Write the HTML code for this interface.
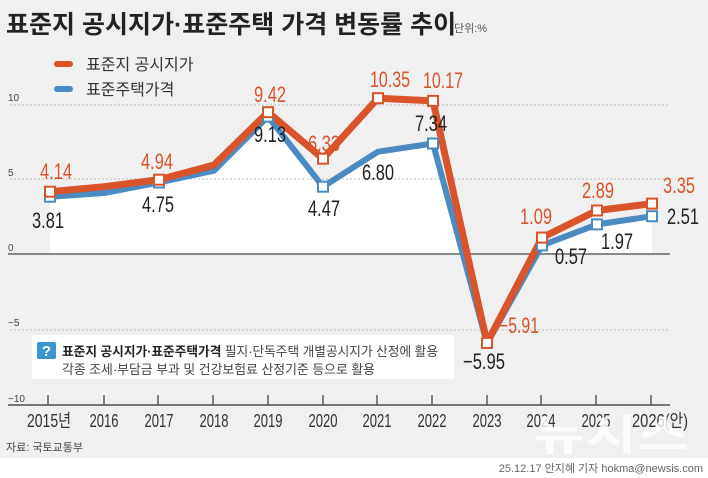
<!DOCTYPE html>
<html><head><meta charset="utf-8"><style>
body{margin:0;padding:0;}
svg{display:block;font-family:"Liberation Sans","Noto Sans CJK KR",sans-serif;}
.n{font-size:22px;text-anchor:middle;}
.o{fill:#d9532b;}.k{fill:#222;}
.yl{font-size:10px;fill:#444;}
.xl{font-size:18px;fill:#333;text-anchor:middle;}
</style></head><body>
<svg width="708" height="478" viewBox="0 0 708 478">
<defs><clipPath id="c"><rect x="0" y="0" width="708" height="254"/></clipPath></defs>
<rect width="708" height="478" fill="#fff"/>
<rect width="708" height="458" fill="#f0f0f0"/>
<polygon clip-path="url(#c)" fill="#fff" points="50,254 50,196.7 104,193 159,182.5 214,170.7 268,116.6 323,186.7 378,151.7 433,143.5 487,343.5 542,245.4 597,224.4 652,216.2 652,254"/>
<g stroke="#bbb" stroke-width="1" stroke-dasharray="2,2">
<line x1="10" y1="105" x2="670" y2="105"/><line x1="10" y1="179" x2="670" y2="179"/><line x1="10" y1="330" x2="670" y2="330"/>
</g>
<line x1="8" y1="254" x2="670" y2="254" stroke="#888" stroke-width="2"/>
<line x1="8" y1="405" x2="670" y2="405" stroke="#777" stroke-width="2"/>
<g stroke="#444" stroke-width="1.3">
<line x1="48" y1="395" x2="48" y2="405"/><line x1="104" y1="395" x2="104" y2="405"/><line x1="158" y1="395" x2="158" y2="405"/><line x1="213" y1="395" x2="213" y2="405"/><line x1="268" y1="395" x2="268" y2="405"/><line x1="323" y1="395" x2="323" y2="405"/><line x1="377" y1="395" x2="377" y2="405"/><line x1="432" y1="395" x2="432" y2="405"/><line x1="487" y1="395" x2="487" y2="405"/><line x1="541" y1="395" x2="541" y2="405"/><line x1="596" y1="395" x2="596" y2="405"/><line x1="651" y1="395" x2="651" y2="405"/>
</g>
<text class="yl" x="8" y="101">10</text><text class="yl" x="8" y="176">5</text><text class="yl" x="8" y="251">0</text><text class="yl" x="8" y="326">−5</text><text class="yl" x="8" y="402">−10</text>
<rect x="32" y="335" width="422" height="44" rx="3" fill="#fff"/>
<polyline fill="none" stroke="#4a8bc4" stroke-width="6" stroke-linejoin="round" points="50,196.7 104,193 159,182.5 214,170.7 268,116.6 323,186.7 378,151.7 433,143.5 487,343.5 542,245.4 597,224.4 652,216.2"/>
<polyline fill="none" stroke="#d9532b" stroke-width="7" stroke-linejoin="round" points="50,191.7 104,186.7 159,179.7 214,165 268,112.2 323,158.7 378,98.2 433,100.9 487,342.9 542,237.6 597,210.5 652,203.6"/>
<g fill="#fff" stroke="#4a8bc4" stroke-width="2">
<rect x="45" y="191.7" width="10" height="10"/><rect x="154" y="177.5" width="10" height="10"/><rect x="263" y="111.6" width="10" height="10"/><rect x="318" y="181.7" width="10" height="10"/><rect x="428" y="138.5" width="10" height="10"/><rect x="537" y="240.4" width="10" height="10"/><rect x="592" y="219.4" width="10" height="10"/><rect x="647" y="211.2" width="10" height="10"/>
</g>
<g fill="#fff" stroke="#d9532b" stroke-width="2">
<rect x="45" y="186.7" width="10" height="10"/><rect x="154" y="174.7" width="10" height="10"/><rect x="263" y="107.2" width="10" height="10"/><rect x="318" y="153.7" width="10" height="10"/><rect x="373" y="93.2" width="10" height="10"/><rect x="428" y="95.9" width="10" height="10"/><rect x="482" y="337.9" width="10" height="10"/><rect x="537" y="232.6" width="10" height="10"/><rect x="592" y="205.5" width="10" height="10"/><rect x="647" y="198.6" width="10" height="10"/>
</g>
<g class="n">
<text class="o" x="56" y="179" textLength="32" lengthAdjust="spacingAndGlyphs">4.14</text><text class="k" x="48" y="228" textLength="32" lengthAdjust="spacingAndGlyphs">3.81</text>
<text class="o" x="157" y="169" textLength="32" lengthAdjust="spacingAndGlyphs">4.94</text><text class="k" x="158" y="212" textLength="32" lengthAdjust="spacingAndGlyphs">4.75</text>
<text class="o" x="270" y="102" textLength="32" lengthAdjust="spacingAndGlyphs">9.42</text><text class="k" x="270" y="142" textLength="32" lengthAdjust="spacingAndGlyphs">9.13</text>
<text class="o" x="324" y="151" textLength="32" lengthAdjust="spacingAndGlyphs">6.33</text><text class="k" x="324" y="216" textLength="32" lengthAdjust="spacingAndGlyphs">4.47</text>
<text class="o" x="390" y="87" textLength="40" lengthAdjust="spacingAndGlyphs">10.35</text><text class="k" x="378" y="180" textLength="32" lengthAdjust="spacingAndGlyphs">6.80</text>
<text class="o" x="443" y="88" textLength="40" lengthAdjust="spacingAndGlyphs">10.17</text><text class="k" x="431" y="131" textLength="32" lengthAdjust="spacingAndGlyphs">7.34</text>
<text class="o" x="519" y="333" textLength="40" lengthAdjust="spacingAndGlyphs">−5.91</text><text class="k" x="484" y="369" textLength="42" lengthAdjust="spacingAndGlyphs">−5.95</text>
<text class="o" x="536" y="224" textLength="32" lengthAdjust="spacingAndGlyphs">1.09</text><text class="k" x="571" y="264" textLength="32" lengthAdjust="spacingAndGlyphs">0.57</text>
<text class="o" x="598" y="198" textLength="32" lengthAdjust="spacingAndGlyphs">2.89</text><text class="k" x="617" y="249" textLength="32" lengthAdjust="spacingAndGlyphs">1.97</text>
<text class="o" x="679" y="193" textLength="32" lengthAdjust="spacingAndGlyphs">3.35</text><text class="k" x="683" y="224" textLength="32" lengthAdjust="spacingAndGlyphs">2.51</text>
</g>
<g class="xl">
<text x="49" y="427" textLength="44" lengthAdjust="spacingAndGlyphs">2015년</text><text x="104" y="427" textLength="29" lengthAdjust="spacingAndGlyphs">2016</text><text x="159" y="427" textLength="29" lengthAdjust="spacingAndGlyphs">2017</text><text x="214" y="427" textLength="29" lengthAdjust="spacingAndGlyphs">2018</text><text x="268" y="427" textLength="29" lengthAdjust="spacingAndGlyphs">2019</text><text x="323" y="427" textLength="29" lengthAdjust="spacingAndGlyphs">2020</text><text x="377" y="427" textLength="29" lengthAdjust="spacingAndGlyphs">2021</text><text x="432" y="427" textLength="29" lengthAdjust="spacingAndGlyphs">2022</text><text x="487" y="427" textLength="29" lengthAdjust="spacingAndGlyphs">2023</text><text x="541" y="427" textLength="29" lengthAdjust="spacingAndGlyphs">2024</text><text x="596" y="427" textLength="29" lengthAdjust="spacingAndGlyphs">2025</text><text x="660" y="427" textLength="56" lengthAdjust="spacingAndGlyphs">2026(안)</text>
</g>
<text x="6" y="33" font-size="25" font-weight="bold" fill="#222">표준지 공시지가·표준주택 가격 변동률 추이</text>
<text x="454" y="32" font-size="11" fill="#555">단위:%</text>
<line x1="57" y1="64" x2="70" y2="64" stroke="#d9532b" stroke-width="6" stroke-linecap="round"/>
<text x="86" y="70" font-size="16" fill="#333">표준지 공시지가</text>
<line x1="57" y1="89" x2="70" y2="89" stroke="#4a8bc4" stroke-width="6" stroke-linecap="round"/>
<text x="86" y="95" font-size="16" fill="#333">표준주택가격</text>
<rect x="37" y="342" width="19" height="17" rx="2" fill="#3a96d0"/>
<text x="46.5" y="356" font-size="15" font-weight="bold" fill="#fff" text-anchor="middle">?</text>
<text x="62" y="356" font-size="13" fill="#444" textLength="376" lengthAdjust="spacingAndGlyphs"><tspan font-weight="bold" fill="#222">표준지 공시지가·표준주택가격</tspan> 필지·단독주택 개별공시지가 산정에 활용</text>
<text x="62" y="374" font-size="13" fill="#444" textLength="313" lengthAdjust="spacingAndGlyphs">각종 조세·부담금 부과 및 건강보험료 산정기준 등으로 활용</text>
<text x="6" y="451" font-size="11" fill="#444">자료: 국토교통부</text>
<text x="611" y="450" font-size="42" font-weight="bold" fill="#fff" fill-opacity="0.8" text-anchor="middle" textLength="156" lengthAdjust="spacingAndGlyphs">뉴시스</text>
<text x="703" y="472" font-size="11" fill="#666" text-anchor="end">25.12.17 안지혜 기자 hokma@newsis.com</text>
</svg>
</body></html>
